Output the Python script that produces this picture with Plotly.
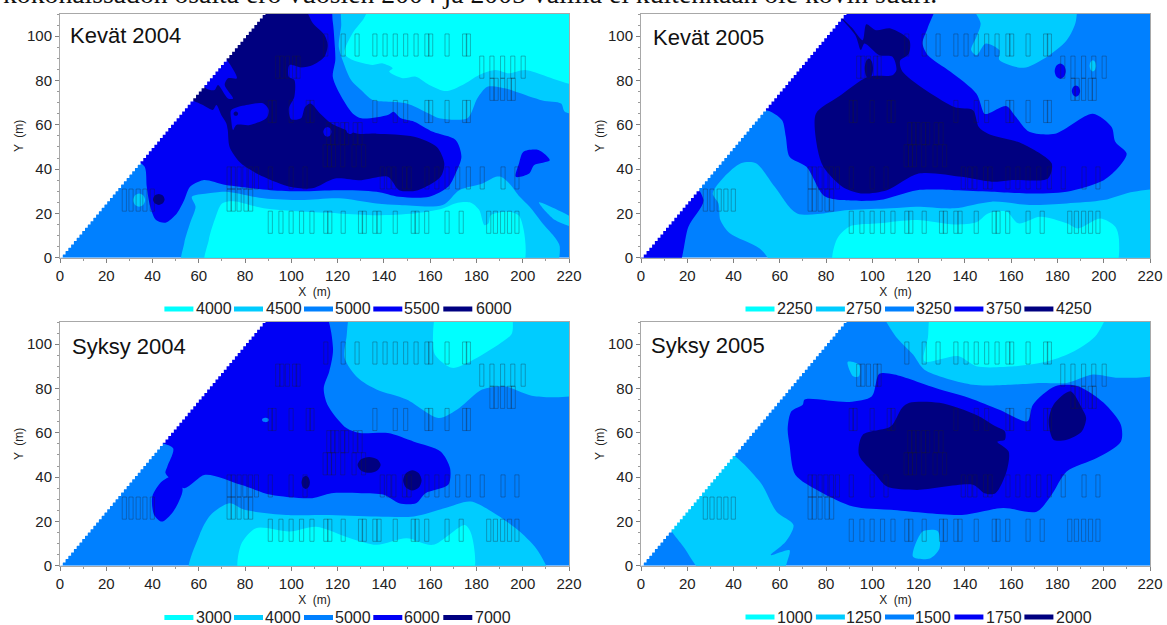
import plotly.graph_objects as go

W, H = 1167, 625
COLORS = ["#00FFFF", "#00CCFF", "#0080FF", "#0000F5", "#000080"]
CY, LT, MD, BL, NV = COLORS

TICKS_X = list(range(0, 221, 20))
TICKS_Y = list(range(0, 101, 20))
REGION = [(0, 0), (220, 0), (220, 110), (88, 110)]

# --- Kevät 2004 ---
K04_LEVELS = ["4000", "4500", "5000", "5500", "6000"]
K04_LIGHT_TOP = [(122.9,110),(121.5,104.3),(120.5,95.2),(122.9,87),(125.8,80.2),(130.8,75),(135.1,71.2),(149.5,69.7),(159.6,65),(163.9,63),(176.1,63),(180.4,72),(184.7,77.2),(192.7,76.4),(197,74.9),(208.5,71),(216.6,69.6),(218.2,65.9),(220,65.4),(220,110)]
K04_CYAN_TOP = [(136.6,110),(130.9,107.3),(126.5,101.4),(122.9,92.2),(126.5,89.2),(135.1,87),(139.5,87.7),(143.8,85.5),(142.3,84),(148.1,81),(153.8,81.7),(159.6,78),(166.8,75.2),(174,78),(181.2,82.5),(188.3,84.7),(194,83.2),(201,84.7),(220,78.6),(220,110)]
K04_LIGHT_LOW = [(53,0),(53.7,6.5),(56.2,15.5),(58.6,23),(57,27.5),(63.5,29),(71.7,29.8),(88,26.8),(104.2,26),(120.5,26.8),(136.8,24.5),(146.7,23.8),(165.4,23.8),(172.6,30.5),(182.6,33.5),(188.4,36.5),(190.6,36.5),(194.2,33.5),(198.7,27.5),(203,23),(209,15),(214,9),(216,5),(213,0)]
K04_CYAN_LOW = [(63,0),(64.3,8),(66.8,17),(70,24.5),(75,25.5),(88,22.3),(104,20.8),(120.5,20),(136.8,19.2),(153,20),(161,21.2),(165.4,22.2),(171.9,24.8),(177.6,24.8),(181.2,21.5),(183.4,14.7),(185.2,15.5),(186.2,19.2),(194.2,20.7),(198.7,18.5),(199,0)]
K04_LIGHT_STREAK = [(207,25),(210,24),(220,15),(220,13),(214,17)]
K04_BLUE = [(35,43.75),(88,110),(116,110),(117.9,106.5),(118.6,98.3),(119,89.2),(117.9,81.7),(120.8,74.2),(126.5,65.1),(130.3,62.9),(141.7,64.4),(144.1,65.9),(147.4,62.9),(153.1,61.4),(161.2,56.8),(171,53.1),(173.5,45.6),(171,38),(167.8,32),(159.6,27.5),(146.6,27.5),(136.8,29.8),(120.5,30.5),(104,30),(91,30.5),(71.7,32.8),(61.9,35),(56.2,32),(53.7,26),(50.5,20),(45.6,15.8),(41.5,17),(39,23),(37.5,32),(36.6,41)]
K04_BLUE_RIGHT = [(200.3,47.8),(206.8,48.6),(211.7,44),(205,41.8),(202.8,38),(197,36.5),(198.4,42.6)]
K04_NAVY = [(57,71.25),(88,110),(103.5,110),(109.3,105.8),(114.3,100.5),(115.7,96),(114.3,90.7),(109.3,87),(104.2,85.9),(99.2,87),(98.9,81.7),(101.3,80.2),(101.3,72.7),(98.9,67.4),(99.9,62.5),(104.2,62.9),(105.9,68),(108.3,69.6),(112.4,65.1),(117.3,60.6),(128.7,56),(136.8,56),(153.1,54.6),(162.9,50),(166.1,42.6),(164.5,36.5),(154.7,30.5),(146.6,30.5),(141.7,36.5),(130.3,35),(118.9,35.8),(109,31.3),(99.3,32),(88,36.5),(78.2,42.6),(73.3,50),(72.5,57.6),(71.9,60.6),(69.7,64.4),(67.6,68.9),(66.1,66.7),(61.8,68.9)]
K04_BLUE_HOLE_A = [(72.3,90.4),(76.5,81),(72.6,81),(71.2,78),(74.8,71.9),(72.6,71.9),(68.3,78),(66.8,75.7),(63.2,76.4),(64,80),(66.8,83.5)]
K04_BLUE_HOLE_B = [(74,66.6),(80.5,68.9),(87.7,69.7),(90.3,66.6),(89.1,62.9),(82,59.9),(76.2,59.9),(74.8,57.6),(74,62.1)]
K04_BLOBS = [(42.7,26.3,2.5,2.5,NV),(34.2,26,2.6,3,LT),(115.6,56.8,1.8,2.2,BL),(125.4,58.3,1.8,2.5,BL),(76,65,1,1,NV)]
K04_LAYERS = [(K04_LIGHT_TOP,LT),(K04_CYAN_TOP,CY),(K04_LIGHT_LOW,LT),(K04_CYAN_LOW,CY),(K04_LIGHT_STREAK,LT),(K04_BLUE,BL),(K04_BLUE_RIGHT,BL),(K04_NAVY,NV),(K04_BLUE_HOLE_A,BL),(K04_BLUE_HOLE_B,BL)]

# --- Kevät 2005 ---
K05_LEVELS = ["2250", "2750", "3250", "3750", "4250"]
K05_LIGHT_TOP = [(142.7,110),(146.8,105.7),(145,99.7),(142.7,93.7),(145,91.4),(149,96.7),(154.9,93.7),(154.9,89.2),(165.4,85.7),(174.3,89.9),(184,98.2),(188,107),(187.2,110)]
K05_LIGHT_LOW = [(31,29),(36,36.5),(43.2,42.6),(49.7,42.6),(57.8,32),(67.5,20),(90,21.5),(108,22.3),(119,23),(135.4,22.3),(151.6,25.3),(167.8,23.8),(184,24.5),(200,26),(213,29.8),(220,29.8),(220,0),(61,0),(51.3,4.2),(38.4,11),(34.3,17),(33.5,24.5)]
K05_CYAN = [(83.7,0),(84.5,8),(90,14),(103,15.5),(119.3,17),(135.4,15),(145,16),(150,20),(158,20.8),(163,15.5),(172.6,18.5),(184,15.5),(188.8,13.2),(198.5,17.7),(205,14),(206.6,8),(204,0)]
K05_BLUE = [(52,65),(88,110),(127.3,110),(124,104),(121.7,96.7),(124,91.4),(133.8,83.9),(145,74),(148.4,65),(150,65),(158,68.4),(162,63.6),(167.8,56.8),(179,56),(195.3,65),(203.4,59),(205,52.3),(209.9,47),(206.6,41),(200,35),(184,29.8),(167.8,29),(151.6,29.8),(135.4,30.5),(119.3,30.5),(103,26),(87,26),(79,28),(71.5,41),(64.2,45.6),(62.6,54.6),(61,62),(56.1,65.9)]
K05_BLUE_LEFT = [(0,0),(15,0),(20.5,14),(27,26),(25,31.25)]
K05_NAVY = [(86.9,109),(91,104),(95.8,98.2),(97.4,105.4),(101.5,102.7),(107.9,103.5),(116,98.2),(115.7,92),(112,89),(113,84),(135.4,68),(143.5,66.6),(146,59),(150,56),(164.6,51.6),(177.5,42.6),(175.9,35.8),(159.7,35),(151.6,34.3),(138.7,36.5),(120,38),(106.3,30.5),(95,29),(87,32),(78.8,41),(76.4,48.6),(75.6,65),(85.3,72.6),(98.2,81.7),(108.7,82.4),(110.4,84.7),(108.7,90.7),(103,91.4),(96.6,96.7),(95,93.7),(92.6,100.5)]
K05_BLOBS = [(98.5,85.4,1.8,4.5,NV),(181.2,84.2,2.4,3.5,BL),(188,75.2,1.8,2.5,BL),(195.3,86.6,1.4,2.5,LT)]
K05_LAYERS = [(K05_LIGHT_TOP,LT),(K05_LIGHT_LOW,LT),(K05_CYAN,CY),(K05_BLUE,BL),(K05_BLUE_LEFT,BL),(K05_NAVY,NV)]

# --- Syksy 2004 ---
S04_LEVELS = ["3000", "4000", "5000", "6000", "7000"]
S04_LIGHT_TOP = [(127,110),(123.8,102.9),(123,93.8),(128.7,84.8),(136.8,79.5),(149.8,75),(163.7,66.7),(172.6,71.2),(182.4,79.5),(192.2,81),(205.2,76.5),(220,78.7),(220,110)]
S04_CYAN_TOP = [(163.7,110),(161.2,102.9),(162,95.3),(169.4,89.3),(177.5,92.3),(190.6,100.6),(195.4,105),(193.8,110)]
S04_LIGHT_LOW = [(56.2,0),(60.3,13.9),(65.1,22.9),(73.3,28.2),(79.8,25.2),(97.7,22.9),(114,22.9),(136.8,22.2),(153,22.2),(166.1,25.9),(177.5,29),(188.9,22.9),(198.7,15.4),(206.8,6.3),(210.9,0)]
S04_CYAN_LOW = [(78.2,0),(78.2,9.4),(84.7,16.9),(99.3,15.4),(110.7,17.6),(125.4,12.4),(136.8,9.4),(149.8,12.4),(161.2,9.4),(175,18.4),(177.9,13.9),(177.5,0)]
S04_BLUE = [(43.5,54.4),(88,110),(113.2,110),(118,98.3),(116.4,87.8),(114,80.2),(115.6,72.7),(123.8,62.1),(129.5,59.9),(141.7,59.9),(153,56),(164.5,51.6),(168.6,44),(167.8,36.5),(158,32.7),(153.9,28.2),(146.6,28.2),(140,32),(130.3,32.7),(117.3,32.7),(109,30.5),(91.2,32),(78.2,36.5),(62.7,41),(53.7,35),(45.6,41.8),(46.4,44.8),(48.9,53)]
S04_BLUE_DROP = [(50.5,41),(53,34.2),(48.9,24.4),(44,19.9),(40.7,22.9),(39.9,31.2),(44,38)]
S04_BLOBS = [(133.6,45.5,5,3.6,NV),(106.2,37.6,1.8,3,NV),(152.3,38.5,4,4.6,NV),(88.8,65.8,1.5,1,MD)]
S04_LAYERS = [(S04_LIGHT_TOP,LT),(S04_CYAN_TOP,CY),(S04_LIGHT_LOW,LT),(S04_CYAN_LOW,CY),(S04_BLUE,BL),(S04_BLUE_DROP,BL)]

# --- Syksy 2005 ---
S05_LEVELS = ["1000", "1250", "1500", "1750", "2000"]
S05_LIGHT_TOP = [(104.7,110),(109.5,104.4),(117.6,95.3),(122.5,88.5),(143.5,81.7),(159.7,81.7),(172.7,82.5),(184,82.5),(195.3,86.3),(206.6,84.8),(220,87.8),(220,110)]
S05_CYAN_TOP = [(126.5,110),(124,102.9),(122.5,92.3),(137,94.6),(145,90),(161.3,90),(175.9,92.3),(187.2,96.8),(197,104.4),(201,110)]
S05_BLUE = [(70.7,75),(90,73.9),(99.8,76.5),(103,86.6),(109.5,86.3),(127.3,80.2),(141.9,75.7),(154.9,70.4),(167,65.2),(169.4,72.7),(179,81),(188.8,81),(200,73.5),(207.4,63.6),(207.4,56),(197,48.6),(184,42.5),(177.5,32),(171,24.4),(156.5,26),(138.7,22.9),(108,25.2),(91.7,26.7),(77.2,33.5),(66.7,41),(64.2,54.6),(63.4,62),(65,69.7),(69.9,72.7)]
S05_NAVY_MAIN = [(116,73.5),(129,73.5),(145,68),(153.2,62.9),(157.3,60.6),(157.3,56.9),(154,56),(158.9,51.6),(158,42.5),(153.2,32.7),(148.4,32.7),(143.5,36.5),(119.3,34.2),(106.3,35.7),(101.5,41),(94.2,50),(95.8,59),(108,62.9),(112.8,71.2)]
S05_NAVY_RIGHT = [(185.6,78.7),(190.5,71.2),(192.4,66.7),(190.5,60.6),(184,56.9),(178.3,56.9),(176.2,65.2),(178.3,72.7)]
S05_LIGHT_LEFT = [(39,48.75),(51.3,38),(58.6,24.4),(65.9,18.4),(62.6,10.9),(56.1,4.8),(64.2,7),(63.4,2.6),(59.4,0),(29.4,0),(18.9,7.8),(15.2,19)]
S05_LIGHT_SPOT = [(117.6,4),(121.7,15.4),(128.2,15.7),(129,7.8),(124.9,3.3)]
S05_LIGHT_UP = [(89.3,92),(94.2,90.8),(94.2,85.5),(91.7,85.5)]
S05_BLOBS = []
S05_LAYERS = [(S05_LIGHT_TOP,LT),(S05_CYAN_TOP,CY),(S05_BLUE,BL),(S05_NAVY_MAIN,NV),(S05_NAVY_RIGHT,NV),(S05_LIGHT_LEFT,LT),(S05_LIGHT_SPOT,LT),(S05_LIGHT_UP,LT)]

# --- experimental plots: row bottom (m) -> left edges of plots (m) ---
PLOT_W, PLOT_H = 1.8, 10
PLOT_ROWS = {
    91: [114,121.5,127.5,135.2,139.6,144,148.5,153,157.7,159.3,166.4,174,175.6],
    81: [93.2,95,97.4,100.5,102,181.4,185.8,190.4,194.8,199.3],
    71: [185.8,187.6,190.4,193.3,195],
    61: [90,91.6,99,106.4,108,135.2,144,148.5,157.7,159.3,166.4,174,175.6],
    51: [115.3,117,118.8,121.3,123,126.7,128.8],
    41: [113.7,115.6,117.3,121.3,126.2,130.3],
    31: [72.2,74,76.5,79,81.4,84,90,99,105,138.4,141.2,143.4,148,150,157.7,162,166.4,171,175.6,181.6,190.6,196.6],
    21: [26.9,29.8,32.9,35.8,39,72.2,74,76.5,79.5,81.5],
    11: [90,94.6,99,103.5,108,114,115.7,121.5,129,130.6,135.2,137,144,151.8,153.4,157.6,166.4,172.5,184.4,187.3,190.4,193.4,196.6],
}

SWATCH_L = [164.4, 234, 304, 373.3, 443.3]
SWATCH_R = [745.5, 815.9, 885, 954.4, 1024.4]
LABELS_1 = [195.7, 266.4, 334.9, 403.8, 476]
LABELS_2 = [776.6, 845.8, 915.8, 986.2, 1055.5]
LABELS_3 = [196.4, 264.5, 334.9, 403.8, 474.9]
LABELS_4 = [777.3, 845.8, 915, 985.5, 1056.3]

PANELS = [
    ("Kevät 2004", K04_LEVELS, K04_LAYERS, K04_BLOBS, (60, 569, 14, 257.7), (68, 35), SWATCH_L, LABELS_1, 309),
    ("Kevät 2005", K05_LEVELS, K05_LAYERS, K05_BLOBS, (641, 1150, 14, 257.7), (651, 37), SWATCH_R, LABELS_2, 309),
    ("Syksy 2004", S04_LEVELS, S04_LAYERS, S04_BLOBS, (60, 569, 322, 565.7), (70, 346), SWATCH_L, LABELS_3, 617.5),
    ("Syksy 2005", S05_LEVELS, S05_LAYERS, S05_BLOBS, (641, 1150, 322, 565.7), (649, 345), SWATCH_R, LABELS_4, 617),
]
INTRO = "kokonaissadon osalta ero vuosien 2004 ja 2005 välillä ei kuitenkaan ole kovin suuri."
STAIR_DX, STAIR_DY = 1.2, 1.5
SWATCH_LEN = 29

fig = go.Figure()
layout = dict(
    width=W, height=H, margin=dict(l=0, r=0, t=0, b=0), autosize=False,
    paper_bgcolor="white", plot_bgcolor="white",
    font=dict(family="Liberation Sans, Arial, sans-serif", color="#222222"),
    showlegend=False,
)
annos = [dict(text=INTRO, xref="paper", yref="paper", x=1/W, y=1-11/H, xanchor="left", yanchor="bottom",
              showarrow=False, font=dict(family="Liberation Serif", size=27.7, color="#111"))]
shapes = []


def near_diag(x, y):
    return abs(x - 0.8*y) < 1.3


def pushed(points):
    # vertices lying on the frame or on the oblique edge are carried outward, the
    # frame and the white mask then trim them, so the smooth outline keeps straight edges there
    out = []
    for x, y in points:
        nx, ny = x, y
        if near_diag(x, y):
            nx -= 5
            ny += 4
        if x >= 220:
            nx = 226
        if y <= 0:
            ny = -6
        if y >= 110:
            ny = 116
        out.append((nx, ny))
    return out


def poly(points, color, ax, smooth=True):
    pts = pushed(points) if smooth else points
    xs = [p[0] for p in pts] + [pts[0][0]]
    ys = [p[1] for p in pts] + [pts[0][1]]
    line = dict(width=0, color=color)
    if smooth:
        line.update(shape="spline", smoothing=0.8)
    fig.add_trace(go.Scatter(x=xs, y=ys, mode="lines", line=line, fill="toself",
                             fillcolor=color, hoverinfo="skip", showlegend=False, xaxis=ax[0], yaxis=ax[1]))


def blob(b):
    cx, cy, rx, ry, c = b
    s = 0.7
    return [(cx+rx, cy), (cx+s*rx, cy+s*ry), (cx, cy+ry), (cx-s*rx, cy+s*ry), (cx-rx, cy), (cx-s*rx, cy-s*ry), (cx, cy-ry), (cx+s*rx, cy-s*ry)]


def mask(ax):
    # white corner above the oblique field edge, drawn as the cell staircase of the grid
    xs, ys = [0.0], [0.0]
    while ys[-1] < 110:
        xs.append(xs[-1] + STAIR_DX)
        ys.append(ys[-1])
        xs.append(xs[-1])
        ys.append(ys[-1] + STAIR_DY)
    xs += [-5, -5, 0]
    ys += [ys[-1], 0, 0]
    fig.add_trace(go.Scatter(x=xs, y=ys, mode="lines", line=dict(width=0, color="white"), fill="toself",
                             fillcolor="white", hoverinfo="skip", showlegend=False, xaxis=ax[0], yaxis=ax[1]))


for i, (title, levels, layers, blobs, box, tpos, swatches, labels, ly) in enumerate(PANELS):
    n = "" if i == 0 else str(i+1)
    ax = ("x"+n, "y"+n)
    poly(REGION, MD, ax, smooth=False)
    for pts, c in layers:
        poly(pts, c, ax)
    for b in blobs:
        poly(blob(b), b[4], ax)
    mask(ax)
    rx, ry = [], []
    for y0, lefts in PLOT_ROWS.items():
        for x0 in lefts:
            rx += [x0, x0+PLOT_W, x0+PLOT_W, x0, x0, None]
            ry += [y0, y0, y0+PLOT_H, y0+PLOT_H, y0, None]
    fig.add_trace(go.Scatter(x=rx, y=ry, mode="lines", line=dict(width=0.8, color="rgba(30,30,40,0.4)"),
                             hoverinfo="skip", showlegend=False, xaxis=ax[0], yaxis=ax[1]))
    for lev, col, sx, lx in zip(levels, COLORS, swatches, labels):
        shapes.append(dict(type="line", xref="paper", yref="paper", x0=sx/W, x1=(sx+SWATCH_LEN)/W, y0=1-ly/H, y1=1-ly/H,
                           line=dict(color=col, width=5)))
        annos.append(dict(text=lev, xref="paper", yref="paper", x=(lx-2)/W, y=1-ly/H, xanchor="left", yanchor="middle",
                          showarrow=False, font=dict(size=16, color="#222")))
    l, r, t, b = box
    axis_common = dict(showgrid=False, zeroline=False, showline=True, mirror=True, linecolor="#a8a8a8", automargin=False,
                       linewidth=1, ticks="outside", tickcolor="#808080", ticklen=4, tickfont=dict(size=15, color="#222"))
    layout["xaxis"+n] = dict(axis_common, range=[0, 220], domain=[l/W, r/W], anchor="y"+n, tickvals=TICKS_X,
                             minor=dict(dtick=10, ticks="outside", ticklen=2, tickcolor="#999"),
                             title=dict(text="X  (m)", font=dict(size=12), standoff=4))
    layout["yaxis"+n] = dict(axis_common, range=[0, 110], domain=[1-b/H, 1-t/H], anchor="x"+n, tickvals=TICKS_Y,
                             minor=dict(dtick=5, ticks="outside", ticklen=2, tickcolor="#999"),
                             title=dict(text="Y  (m)", font=dict(size=12), standoff=0))
    annos.append(dict(text=title, xref="paper", yref="paper", x=tpos[0]/W, y=1-tpos[1]/H, xanchor="left",
                      yanchor="middle", showarrow=False, font=dict(size=22, color="#111")))

layout["annotations"] = annos
layout["shapes"] = shapes
fig.update_layout(**layout)
fig.write_html("out.html", config={"displayModeBar": False},
               post_script="document.body.style.margin='0';document.body.style.overflow='hidden';")
